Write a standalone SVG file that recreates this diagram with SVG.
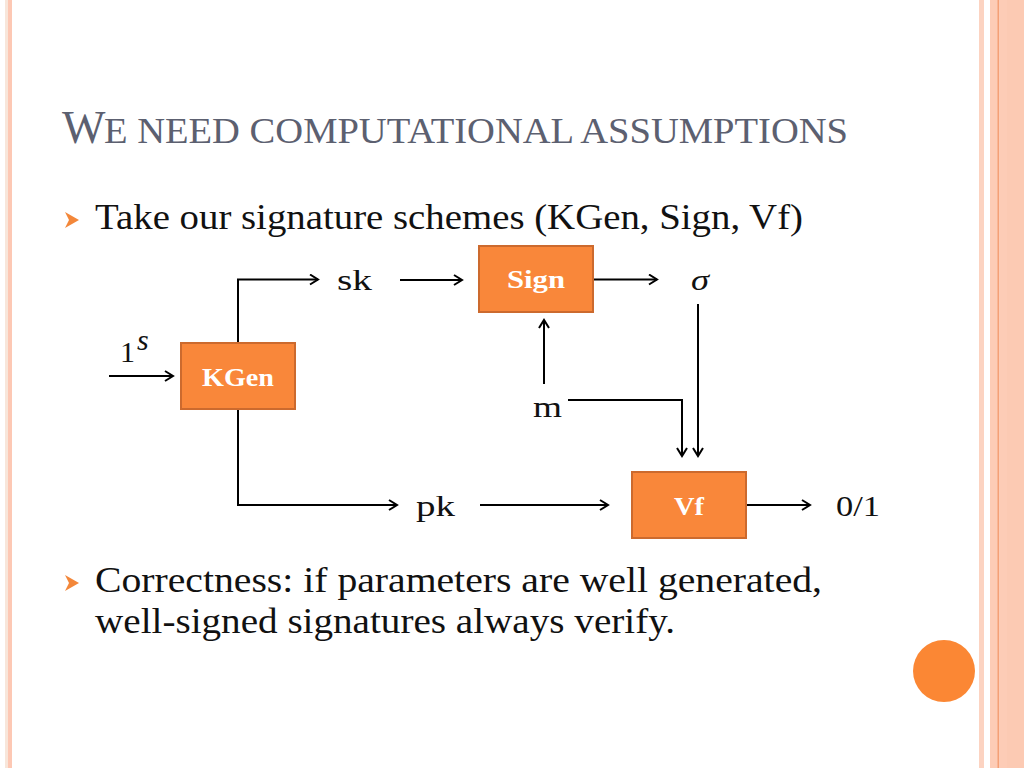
<svg xmlns="http://www.w3.org/2000/svg" width="1024" height="768" viewBox="0 0 1024 768">
  <defs>
    <style>
      .title { font-family: "Liberation Serif", "DejaVu Serif", serif; fill: #5c6070; }
      .body { font-family: "Liberation Serif", "DejaVu Serif", serif; font-size: 36px; fill: #111; }
      .lbl { font-family: "Liberation Serif", "DejaVu Serif", serif; font-size: 30px; fill: #111; }
      .box { fill: #f9873a; stroke: #cc6a2e; stroke-width: 2; }
      .boxt { font-family: "Liberation Serif", "DejaVu Serif", serif; font-weight: bold; font-size: 25px; fill: #fff; text-anchor: middle; }
      .conn { fill: none; stroke: #000; stroke-width: 2; marker-end: url(#ah); }
      .bullet { fill: #f3873a; }
    </style>
    <marker id="ah" viewBox="-10 -6 12 12" refX="0" refY="0" markerWidth="12" markerHeight="12" markerUnits="userSpaceOnUse" orient="auto">
      <path d="M-8,-5 L0,0 L-8,5" fill="none" stroke="#000" stroke-width="2"/>
    </marker>
  </defs>

  <rect width="1024" height="768" fill="#fff"/>

  <!-- page border decoration -->
  <rect x="5" y="0" width="3" height="768" fill="#f8e6da"/>
  <rect x="8" y="0" width="4" height="768" fill="#fdc8b4"/>
  <rect x="979" y="0" width="5" height="768" fill="#fcd3c1"/>
  <rect x="990" y="0" width="34" height="768" fill="#fdccb6"/>
  <rect x="1007" y="0" width="17" height="768" fill="#fccab3"/>
  <rect x="997.5" y="0" width="1.5" height="768" fill="#f4a077"/>

  <!-- title -->
  <text class="title" x="62" y="143" font-size="46">W</text>
  <text class="title" x="104" y="143" font-size="35" textLength="744" lengthAdjust="spacingAndGlyphs">E NEED COMPUTATIONAL ASSUMPTIONS</text>

  <!-- bullets -->
  <polygon class="bullet" points="65,212 79,220 65,228 69,220"/>
  <text class="body" x="95" y="229" textLength="708" lengthAdjust="spacingAndGlyphs">Take our signature schemes (KGen, Sign, Vf)</text>

  <polygon class="bullet" points="65,575 79,583 65,591 69,583"/>
  <text class="body" x="95" y="592" textLength="727" lengthAdjust="spacingAndGlyphs">Correctness: if parameters are well generated,</text>
  <text class="body" x="95" y="633" textLength="580" lengthAdjust="spacingAndGlyphs">well-signed signatures always verify.</text>

  <!-- decorative circle -->
  <circle cx="944" cy="671" r="31" fill="#fb8734"/>

  <!-- connectors -->
  <g id="connectors">
    <path class="conn" d="M109,376 H173"/>
    <path class="conn" d="M238,343 V279.5 H318"/>
    <path class="conn" d="M400,280 H462"/>
    <path class="conn" d="M593,279.5 H657"/>
    <path class="conn" d="M544,384 V320"/>
    <path class="conn" d="M568,400 H682 V456"/>
    <path class="conn" d="M698,304 V456"/>
    <path class="conn" d="M238,409 V505 H397"/>
    <path class="conn" d="M480,505 H608"/>
    <path class="conn" d="M747,505 H810"/>
  </g>

  <!-- nodes -->
  <g id="kgen">
    <rect class="box" x="181" y="343" width="114" height="66"/>
    <text class="boxt" x="238" y="386" textLength="72" lengthAdjust="spacingAndGlyphs">KGen</text>
  </g>
  <g id="sign">
    <rect class="box" x="479" y="246" width="114" height="66"/>
    <text class="boxt" x="536" y="288" textLength="58" lengthAdjust="spacingAndGlyphs">Sign</text>
  </g>
  <g id="vf">
    <rect class="box" x="632" y="472" width="114" height="66"/>
    <text class="boxt" x="689" y="515" textLength="30" lengthAdjust="spacingAndGlyphs">Vf</text>
  </g>

  <!-- labels -->
  <g id="labels">
    <text class="lbl" x="120" y="362">1</text>
    <text class="lbl" x="137" y="350" font-size="22" font-style="italic">s</text>
    <text class="lbl" x="337" y="290" textLength="35" lengthAdjust="spacingAndGlyphs">sk</text>
    <text class="lbl" x="691" y="290" font-size="34" font-style="italic" textLength="18" lengthAdjust="spacingAndGlyphs">σ</text>
    <text class="lbl" x="533" y="417" textLength="29" lengthAdjust="spacingAndGlyphs">m</text>
    <text class="lbl" x="416" y="516" textLength="39" lengthAdjust="spacingAndGlyphs">pk</text>
    <text class="lbl" x="836" y="516" textLength="44" lengthAdjust="spacingAndGlyphs">0/1</text>
  </g>
</svg>
